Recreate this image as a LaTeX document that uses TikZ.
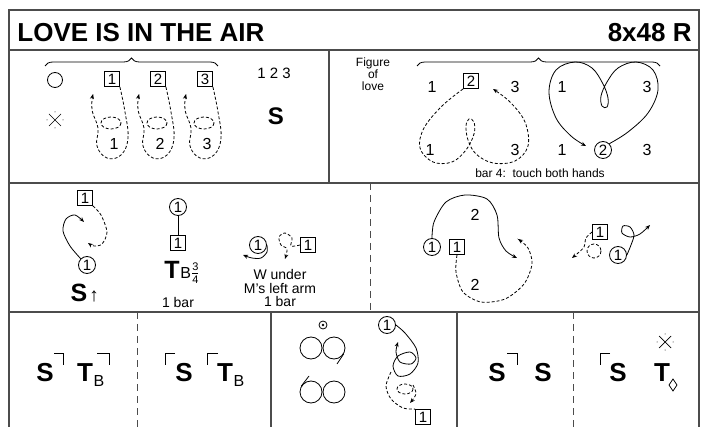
\documentclass[tikz,border=0pt]{standalone}
\usepackage{fontspec}
\setmainfont{Liberation Sans}
\usetikzlibrary{arrows.meta,decorations.pathreplacing,positioning}
\newcommand\fsz[1]{\fontsize{#1}{#1}\selectfont}
\tikzset{
  dotx/.pic={\draw[line width=0.7pt] (-6,-6) -- (6,6) (-6,6) -- (6,-6);
             \foreach \a in {0,90,180,270} \fill (\a:8) circle (0.5pt);}
}

\begin{document}
\begin{tikzpicture}[x=1pt,y=-1pt,line width=0.8pt,
  frame/.style={draw=black!70,line width=1.3pt},
  dsep/.style={draw=black!70,line width=1pt,dash pattern=on 7pt off 5pt},
  man/.style={draw,rectangle,minimum size=15pt,inner sep=0pt,font=\fsz{15}},
  woman/.style={draw,circle,minimum size=17pt,inner sep=0pt,font=\fsz{15}},
  num/.style={inner sep=0pt,font=\fsz{16}},
  big/.style={inner sep=0pt,font=\fsz{26}\bfseries},
  small/.style={inner sep=0pt,align=center,font=\fsz{12}},
  sub/.style={inner sep=0pt,anchor=base west,font=\fsz{16}},
  trk/.style={-{Stealth[length=5pt,width=4pt]}},
  dsh/.style={dash pattern=on 3pt off 2pt},
  dtrk/.style={trk,dsh},
  lbrace/.style={decorate,decoration={brace,amplitude=8pt}}]
\useasboundingbox (0,0) rectangle (701,427);

\draw[frame] (9,427) |- (699,10) -- (699,427);
\draw[frame] (9,50) -- (699,50) (9,183) -- (699,183) (9,312) -- (699,312);
\draw[frame] (329,50) -- (329,183) (271,312) -- (271,427) (457,312) -- (457,427);
\draw[dsep] (370,183) -- (370,312) (137,312) -- (137,427) (573,312) -- (573,427);

\node[anchor=base west,inner sep=0pt,font=\fsz{26}\bfseries] (title) at (17,42) {LOVE IS IN THE AIR};
\node[anchor=base east,inner sep=0pt,font=\fsz{26}\bfseries] (form) at (692,42) {8x48 R};

\draw[lbrace] (45,66) -- (218,66);
\node[draw,circle,minimum size=15pt,inner sep=0pt] (ring) at (55,80) {};
\pic at (55,120) {dotx};
\foreach \i/\x in {1/112,2/158,3/205}{
  \node[man] (m\i) at (\x,79) {\i};
  \node[num] (n\i) at (\x+2,144) {\i};
  \draw[dtrk] plot[smooth,tension=0.7] coordinates {(m\i.south east) (\x+13,112) (\x+16,138) (\x+9,155) (\x-5,158) (\x-15,146) (\x-14,128) (\x-20,110) (\x-19,94)};
  \draw[dsh] (\x-1,123) ellipse (10 and 6);
}
\node[inner sep=0pt,font=\fsz{15}] (bars) at (274,73) {1 2 3};
\node[big,font=\fsz{24}\bfseries] (s1) at (276,116) {S};

\node[small,font=\fontsize{12}{12}\selectfont] (fig) at (373,74) {Figure\\of\\love};
\draw[lbrace] (417,66) -- (660,66);
\node[num] (h1a) at (432,87) {1};
\node[man] (h2) at (471,81) {2};
\node[num] (h3a) at (515,87) {3};
\node[num] (h1b) at (430,150) {1};
\node[num] (h3b) at (515,150) {3};
\draw[dtrk] plot[smooth,tension=0.6] coordinates {(h2.south west) (442,106) (424,128) (420,148) (433,162) (452,162) (466,150) (474,134) (474,122) (469,119) (466,126) (468,140) (476,154) (493,163) (515,161) (528,146) (525,122) (510,102) (493,89)};
\node[num] (k1a) at (562,87) {1};
\node[num] (k3a) at (647,87) {3};
\node[num] (k1b) at (562,150) {1};
\node[woman] (k2) at (603,150) {2};
\node[num] (k3b) at (647,150) {3};
\draw[trk] plot[smooth,tension=0.6] coordinates {(k2.north east) (628,132) (648,113) (658,90) (653,70) (636,62) (618,68) (607,82) (601,96) (602,106) (607,107) (608,98) (603,84) (592,68) (575,62) (556,70) (549,92) (556,118) (571,136) (586,146)};
\node[small] (touch) at (540,173) {bar 4:\ \ touch both hands};

\node[man] (r1m) at (85,198) {1};
\node[woman] (r1w) at (87,265) {1};
\draw[dtrk] plot[smooth] coordinates {(r1m.south east) (101,215) (107,232) (102,244) (94,246) (88,243)};
\draw[trk] plot[smooth] coordinates {(r1w.north west) (70,246) (63,231) (66,219) (75,215) (84,222)};
\node[big,font=\fsz{25}\bfseries] (s2) at (79,293) {S};
\node[inner sep=0pt,font=\fsz{19}] (up) at (94,296) {↑};

\node[woman] (t1w) at (178,207) {1};
\node[man] (t1m) at (178,243) {1};
\draw (t1w) -- (t1m);
\node[big,font=\fsz{25}\bfseries,anchor=base] (tt) at (172,279) {T};
\node[sub] (tb) at (tt.base east) {B\raisebox{1.5pt}{$\frac{\mbox{\fsz{11}3}}{\mbox{\fsz{11}4}}$}};
\node[small,font=\fsz{14}] (bar1) at (178,302) {1 bar};

\node[woman] (u1w) at (258,245) {1};
\node[man] (u1m) at (308,245) {1};
\draw[trk] plot[smooth] coordinates {(u1w.east) (267,252) (261,258) (252,258) (243,255)};
\draw[dtrk] plot[smooth] coordinates {(u1m.west) (291,246) (292,238) (285,233) (279,237) (281,245) (287,249) (285,259)};
\node[small,font=\fontsize{14}{13.5}\selectfont] (wunder) at (280,288) {W under\\M's left arm\\1 bar};

\node[woman] (v1w) at (432,247) {1};
\node[man] (v1m) at (457,247) {1};
\node[num] (v2a) at (475,215) {2};
\node[num] (v2b) at (475,285) {2};
\draw[trk] plot[smooth] coordinates {(v1w.north) (434,222) (446,202) (465,195) (487,199) (497,215) (499,238) (506,251) (517,258)};
\draw[dtrk] plot[smooth] coordinates {(v1m.south) (456,272) (463,292) (481,302) (505,299) (524,284) (532,264) (528,248) (518,239)};

\node[man] (w1m) at (600,232) {1};
\node[woman] (w1w) at (618,255) {1};
\draw[dtrk] plot[smooth] coordinates {(w1m.west) (586,238) (584,247) (578,253) (572,258)};
\draw[dsh] (594,251) circle (7);
\draw[trk] plot[smooth] coordinates {(w1w.east) (631,245) (634,235) (630,227) (623,226) (622,233) (630,237) (640,234) (650,225)};

\node[big] (s3a) at (45,373) {S};
\draw (54,353) -| (63,365);
\node[big] (t3a) at (85,373) {T};
\node[sub] (b3a) at ([yshift=-5pt]t3a.base east) {B};
\draw (97,353) -| (109,365);

\draw (175,353) -| (165,365);
\node[big] (s3b) at (184,373) {S};
\draw (218,353) -| (207,365);
\node[big] (t3b) at (225,373) {T};
\node[sub] (b3b) at ([yshift=-5pt]t3b.base east) {B};

\node[draw,circle,minimum size=8pt,inner sep=0pt] (top) at (323,325) {};
\fill (top) circle (1.3pt);
\node[draw,circle,minimum size=22pt,inner sep=0pt] (c1) at (311,348) {};
\node[draw,circle,minimum size=22pt,inner sep=0pt] (c2) at (334,348) {};
\node[draw,circle,minimum size=22pt,inner sep=0pt] (c3) at (311,392) {};
\node[draw,circle,minimum size=22pt,inner sep=0pt] (c4) at (334,392) {};
\draw (c2.-30) -- (337,364);
\draw (c3.150) -- (309,376);

\node[woman] (x1w) at (387,325) {1};
\node[man] (x1m) at (423,417) {1};
\draw[trk] plot[smooth] coordinates {(x1w.east) (405,333) (416,348) (418,363) (410,374) (398,376) (393,366) (398,356) (410,352) (416,358) (411,364) (400,362) (396,352) (398,342)};
\draw[dsh] plot[smooth] coordinates {(391,372) (386,386) (391,399) (403,408) (x1m.north west)};
\draw[dsh] (405,389) ellipse (8 and 5);
\draw[dtrk] plot[smooth] coordinates {(413,385) (416,394) (410,403)};

\draw (507,353) -| (517,365);
\node[big] (s3c) at (497,373) {S};
\node[big] (s3d) at (543,373) {S};

\draw (610,353) -| (600,365);
\node[big] (s3e) at (618,373) {S};
\pic at (665,342) {dotx};
\node[big] (t3e) at (662,373) {T};
\draw (673,379) -- (677,385) -- (673,391) -- (669,385) -- cycle;
\end{tikzpicture}
\end{document}
